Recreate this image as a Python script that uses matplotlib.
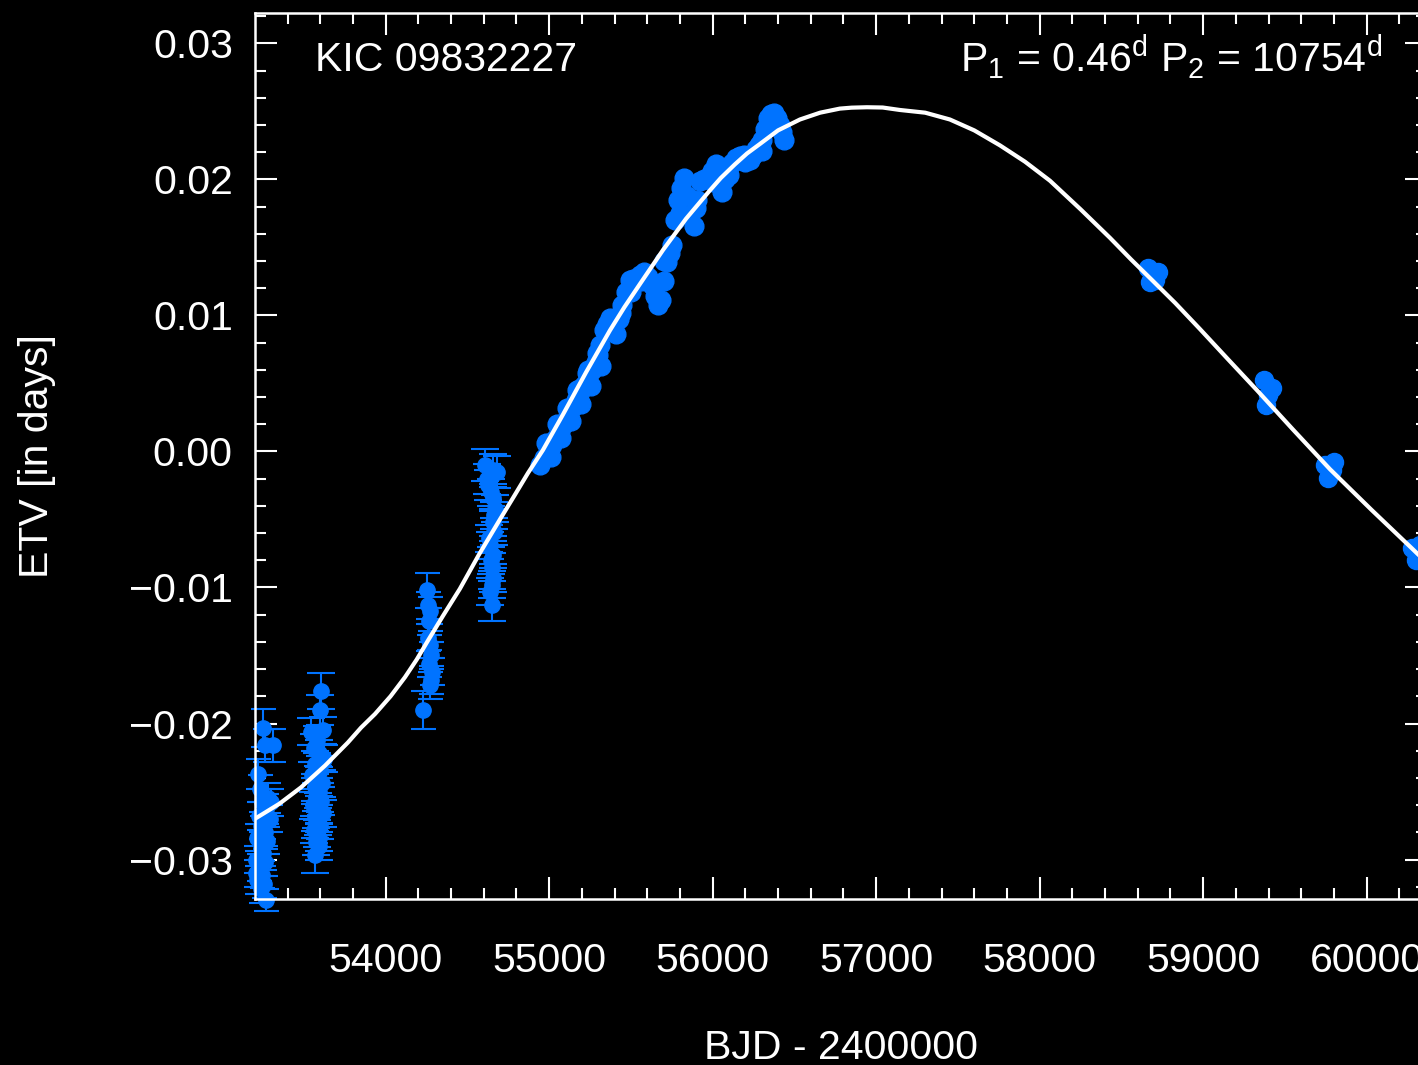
import matplotlib
matplotlib.use("Agg")
import matplotlib.pyplot as plt
from matplotlib.ticker import MultipleLocator, FuncFormatter

plt.rcParams['font.family'] = ['Liberation Sans', 'DejaVu Sans']
plt.rcParams['mathtext.fontset'] = 'custom'
plt.rcParams['mathtext.rm'] = 'Liberation Sans'
plt.rcParams['mathtext.it'] = 'Liberation Sans'

BLUE = '#0073FF'
FS = 29.5

# --- ground-based timings (BJD - 2400000, ETV in days, error) ---
g1_x = [53251, 53262, 53310, 53219, 53280, 53230, 53245, 53270, 53225, 53290,
        53240, 53260, 53215, 53275, 53235, 53250, 53210, 53265, 53228, 53245,
        53212, 53258, 53235, 53270, 53205, 53300]
g1_y = [-0.0203, -0.0216, -0.0216, -0.0237, -0.0255, -0.0248, -0.0258, -0.0263,
        -0.0268, -0.0270, -0.0275, -0.0280, -0.0284, -0.0286, -0.0290, -0.0295,
        -0.0300, -0.0302, -0.0306, -0.0311, -0.0315, -0.0318, -0.0322, -0.0330,
        -0.0310, -0.0258]
g1_e = [0.0014, 0.0012, 0.0012, 0.0011, 0.0011, 0.0010, 0.0010, 0.0011,
        0.0010, 0.0010, 0.0010, 0.0010, 0.0010, 0.0010, 0.0010, 0.0010,
        0.0010, 0.0010, 0.0010, 0.0010, 0.0010, 0.0010, 0.0010, 0.0008,
        0.0010, 0.0010]

g2_x = [53604, 53598, 53543, 53616, 53580, 53560, 53590, 53620, 53570, 53600,
        53550, 53585, 53610, 53565, 53595, 53575, 53605, 53555, 53590, 53615,
        53570, 53585, 53600, 53560, 53580, 53595, 53575, 53590, 53568]
g2_y = [-0.0176, -0.0190, -0.0206, -0.0205, -0.0212, -0.0218, -0.0222, -0.0226,
        -0.0230, -0.0234, -0.0238, -0.0241, -0.0244, -0.0247, -0.0250, -0.0254,
        -0.0257, -0.0260, -0.0263, -0.0266, -0.0269, -0.0272, -0.0275, -0.0278,
        -0.0281, -0.0284, -0.0287, -0.0290, -0.0297]
g2_e = [0.0013, 0.0011, 0.0010, 0.0010, 0.0010, 0.0010, 0.0010, 0.0010,
        0.0010, 0.0010, 0.0010, 0.0010, 0.0010, 0.0010, 0.0010, 0.0010,
        0.0010, 0.0010, 0.0010, 0.0010, 0.0010, 0.0010, 0.0010, 0.0010,
        0.0010, 0.0010, 0.0010, 0.0010, 0.0013]

g3_x = [54253, 54259, 54271, 54265, 54259, 54271, 54277, 54265, 54283, 54277,
        54271, 54228]
g3_y = [-0.0102, -0.0113, -0.0117, -0.0125, -0.0137, -0.0142, -0.0150, -0.0156,
        -0.0162, -0.0168, -0.0172, -0.0190]
g3_e = [0.0013, 0.0010, 0.0010, 0.0010, 0.0010, 0.0010, 0.0010, 0.0010,
        0.0010, 0.0010, 0.0010, 0.0014]

g4_x = [54607, 54656, 54620, 54681, 54626, 54656, 54668, 54656, 54662, 54638,
        54656, 54650, 54656, 54638, 54650, 54644, 54632, 54662, 54644, 54650]
g4_y = [-0.0010, -0.0014, -0.0020, -0.0015, -0.0025, -0.0034, -0.0042, -0.0052,
        -0.0059, -0.0069, -0.0076, -0.0085, -0.0093, -0.0103, -0.0113, -0.0080,
        -0.0064, -0.0047, -0.0030, -0.0098]
g4_e = [0.0012, 0.0012, 0.0011, 0.0012, 0.0011, 0.0010, 0.0010, 0.0010,
        0.0010, 0.0010, 0.0010, 0.0010, 0.0010, 0.0010, 0.0012, 0.0010,
        0.0010, 0.0010, 0.0010, 0.0010]

# --- Kepler timings ---
kep_x = [54944, 54968, 54993, 55017, 55042, 55066, 55091, 55115, 55140, 55164,
         55188, 55213, 55237, 55262, 55286, 55310, 55335, 55354, 55372, 55390,
         55409, 55428, 55446, 55470, 55495, 55514, 55532, 55556, 55580, 55605,
         55629, 55648, 55666, 55684, 55703, 55721, 55740, 55752, 55770, 55788,
         55806, 55825, 55843, 55862, 55887, 55905, 55923, 55948, 55972, 55997,
         56021, 56039, 56057, 56076, 56094, 56118, 56143, 56168, 56192, 56210,
         56229, 56247, 56266, 56284, 56302, 56321, 56339, 56357, 56376, 56394,
         56413, 56425, 56437,
         55000, 55060, 55120, 55180, 55240, 55300, 55440, 55500, 55560,
         55700, 55800, 55900, 56000, 56100, 56200, 56300, 56380,
         54980, 55050, 55110, 55170, 55230, 55290,
         55010, 55075, 55135, 55195, 55255, 55320]
kep_y = [-0.0010, -0.0005, -0.0001, 0.0005, 0.0010, 0.0015, 0.0020, 0.0026,
         0.0032, 0.0038, 0.0044, 0.0049, 0.0054, 0.0060, 0.0066, 0.0078,
         0.0089, 0.0094, 0.0098, 0.0090, 0.0086, 0.0097, 0.0108, 0.0117,
         0.0126, 0.0127, 0.0127, 0.0130, 0.0132, 0.0128, 0.0122, 0.0114,
         0.0108, 0.0111, 0.0125, 0.0139, 0.0146, 0.0152, 0.0170, 0.0185,
         0.0194, 0.0201, 0.0188, 0.0174, 0.0166, 0.0185, 0.0199, 0.0200,
         0.0201, 0.0206, 0.0211, 0.0200, 0.0191, 0.0200, 0.0207, 0.0212,
         0.0216, 0.0217, 0.0218, 0.0216, 0.0214, 0.0218, 0.0222, 0.0225,
         0.0229, 0.0237, 0.0245, 0.0248, 0.0249, 0.0245, 0.0240, 0.0235,
         0.0229,
         0.0006, 0.0019, 0.0031, 0.0046, 0.0060, 0.0071, 0.0102, 0.0117,
         0.0125, 0.0140, 0.0175, 0.0179, 0.0198, 0.0203, 0.0213, 0.0221,
         0.0244,
         0.0006, 0.0020, 0.0032, 0.0045, 0.0058, 0.0072,
         -0.0004, 0.0010, 0.0022, 0.0035, 0.0048, 0.0063]

# --- recent timings ---
late_x = [58662, 58674, 58723, 58705,
          59372, 59396, 59421, 59384,
          59745, 59788, 59763, 59800,
          60277, 60301, 60326]
late_y = [0.01348, 0.01245, 0.01318, 0.01260,
          0.00525, 0.00414, 0.00466, 0.00341,
          -0.00099, -0.00136, -0.00195, -0.00078,
          -0.00711, -0.00799, -0.00689]

# --- LTTE model curve ---
model_x = [53201, 53350, 53482, 53629, 53769, 53850, 53935, 54030, 54118, 54190,
           54259, 54350, 54454, 54570, 54699, 54790, 54870, 54962, 55084, 55225,
           55372, 55460, 55555, 55696, 55837, 55984, 56050, 56136, 56210, 56289,
           56400, 56534, 56657, 56778, 56850, 56944, 57040, 57145, 57300, 57451,
           57600, 57757, 57910, 58063, 58250, 58430, 58560, 58687, 58830, 58980,
           59150, 59329, 59550, 59775, 60030, 60283, 60369]
model_y = [-0.0270, -0.0259, -0.0247, -0.0231, -0.0214, -0.0203, -0.0193, -0.0180,
           -0.0166, -0.0153, -0.0139, -0.0121, -0.0101, -0.0076, -0.0050, -0.0032,
           -0.0016, 0.0001, 0.0027, 0.0058, 0.0089, 0.0106, 0.0123, 0.0148,
           0.0171, 0.0192, 0.0201, 0.0211, 0.0219, 0.0226, 0.0236, 0.0244,
           0.0249, 0.0252, 0.02527, 0.0253, 0.02528, 0.0251, 0.0249, 0.0244,
           0.0236, 0.0225, 0.0213, 0.0199, 0.0178, 0.0157, 0.0141, 0.0126,
           0.0109, 0.0090, 0.0068, 0.0045, 0.0016, -0.0013, -0.0043, -0.0072,
           -0.0082]

x_ticks = [54000, 55000, 56000, 57000, 58000, 59000, 60000]
y_ticks = [-0.03, -0.02, -0.01, 0.00, 0.01, 0.02, 0.03]

fig = plt.figure(figsize=(14.18, 10.65), dpi=100, facecolor='black')
ax = fig.add_axes([255 / 1418, 166 / 1065, 1172 / 1418, 886.3 / 1065])
ax.set_facecolor('black')


def plot_points(x, y, e, cap, ms):
    cont = ax.errorbar(x, y, yerr=e, fmt='o', ms=ms, color=BLUE, mec=BLUE,
                       ecolor=BLUE, elinewidth=1.5, capsize=cap, capthick=1.5,
                       zorder=2)
    for art in cont.get_children():
        art.set_clip_on(False)


plot_points(g1_x, g1_y, g1_e, 9, 11)
plot_points(g2_x, g2_y, g2_e, 10, 11)
plot_points(g3_x, g3_y, g3_e, 9, 11)
plot_points(g4_x, g4_y, g4_e, 10, 11)
plot_points(kep_x, kep_y, [0.0003] * len(kep_x), 4, 13.5)
plot_points(late_x, late_y, [0.0002] * len(late_x), 4, 13)

ax.plot(model_x, model_y, color='white', lw=3.0, zorder=3,
        solid_joinstyle='round', solid_capstyle='round')

ax.set_xlim(53201, 60369)
ax.set_ylim(-0.0329, 0.03225)

ax.set_xticks(x_ticks)
ax.set_yticks(y_ticks)
ax.xaxis.set_minor_locator(MultipleLocator(200))
ax.yaxis.set_minor_locator(MultipleLocator(0.002))
ax.yaxis.set_major_formatter(
    FuncFormatter(lambda v, pos: f'{v:.2f}'.replace('-', '\u2212')))

for sp in ax.spines.values():
    sp.set_color('white')
    sp.set_linewidth(1.8)

ax.tick_params(which='both', direction='in', colors='white', top=True,
               right=True, width=1.5)
ax.tick_params(which='major', length=16, labelsize=FS)
ax.tick_params(axis='x', which='major', pad=31)
ax.tick_params(axis='y', which='major', pad=16)
ax.tick_params(which='minor', length=8)

ax.set_xlabel('BJD - 2400000', color='white', fontsize=FS)
ax.set_ylabel('ETV [in days]', color='white', fontsize=FS)
ax.xaxis.set_label_coords(0.5, -0.147)
ax.yaxis.set_label_coords(-0.1696, 0.5)

ax.text(0.0512, 0.934, 'KIC 09832227', transform=ax.transAxes, color='white',
        fontsize=FS, va='baseline', ha='left')
ax.text(0.6015, 0.934, r'P$_1$ = 0.46$^{\mathrm{d}}$ P$_2$ = 10754$^{\mathrm{d}}$',
        transform=ax.transAxes, color='white', fontsize=FS, va='baseline',
        ha='left')

fig.savefig('out.png', dpi=100, facecolor='black')
